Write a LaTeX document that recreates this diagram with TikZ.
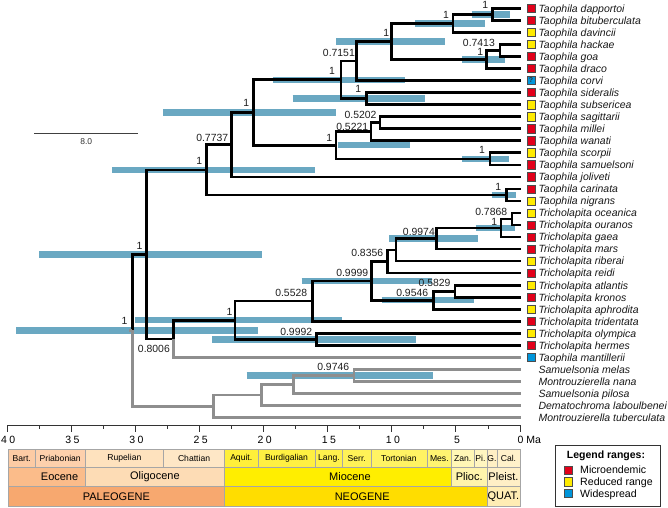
\documentclass[tikz,border=0pt]{standalone}
\usepackage{fontspec}
\setmainfont{Liberation Sans}
\newfontfamily\axisfont[LetterSpace=23]{Liberation Sans}
\usetikzlibrary{calc}
\definecolor{hpd}{HTML}{6AA8C2}
\definecolor{outgrp}{HTML}{8E8E8E}
\definecolor{rmic}{HTML}{E2001A}
\definecolor{rred}{HTML}{FFEB00}
\definecolor{rwid}{HTML}{0095DA}
% time scale colours
\definecolor{cbart}{HTML}{FCCBA4}
\definecolor{cpria}{HTML}{FDD0AC}
\definecolor{crup}{HTML}{FEE2BE}
\definecolor{cchat}{HTML}{FEE7C6}
\definecolor{caqu}{HTML}{FFEF3A}
\definecolor{cbur}{HTML}{FFF042}
\definecolor{clan}{HTML}{FFF14C}
\definecolor{cser}{HTML}{FFF257}
\definecolor{ctor}{HTML}{FFF363}
\definecolor{cmes}{HTML}{FFF470}
\definecolor{czan}{HTML}{FFF7B6}
\definecolor{cpia}{HTML}{FFF6C0}
\definecolor{cgel}{HTML}{FFEFC4}
\definecolor{ccal}{HTML}{FFF1CA}
\definecolor{ceoc}{HTML}{FBBC8A}
\definecolor{colig}{HTML}{FDDCB5}
\definecolor{cmio}{HTML}{FFEE00}
\definecolor{cplio}{HTML}{FFF4AC}
\definecolor{cpleist}{HTML}{FFEFC6}
\definecolor{cpal}{HTML}{F7A86F}
\definecolor{cneo}{HTML}{FFDD00}
\definecolor{cquat}{HTML}{FFEDB4}
\tikzset{
    tree/.style = {line width=2.6pt, line join=miter},
    outg/.style = {tree, draw=outgrp},
    hpdbar/.style = {draw=hpd, line width=6.4pt},
    post/.style = {font=\fontsize{10.4}{12}\selectfont, inner sep=0pt,
                   anchor=south east, text=black!88},
    tiplab/.style = {font=\fontsize{10.5}{12}\selectfont\itshape,
                     inner sep=0pt, anchor=base west, text=black!90},
    rangebox/.style = {draw=black!70, line width=0.5pt, minimum size=8.3pt,
                       inner sep=0pt},
    axisline/.style = {draw=black!80, line width=0.8pt},
    axlab/.style = {font=\axisfont\fontsize{10.5}{12}\selectfont,
                    inner sep=0pt, anchor=base},
    cell/.style = {draw=black!35, line width=0.6pt},
    stagelab/.style = {font=\fontsize{8.6}{10}\selectfont, inner sep=0pt},
    epochlab/.style = {font=\fontsize{11}{12}\selectfont, inner sep=0pt}
}

\begin{document}
\begin{tikzpicture}[x=1pt,y=-1pt]
    \fill[white] (0,0) rectangle (668,507);
    \useasboundingbox (0,0) rectangle (668,507);

    % tips
    \foreach \sp/\rng [count=\i from 0] in {Taophila dapportoi/rmic,
        Taophila bituberculata/rmic, Taophila davincii/rred,
        Taophila hackae/rred, Taophila goa/rmic, Taophila draco/rmic,
        Taophila corvi/rwid, Taophila sideralis/rmic,
        Taophila subsericea/rred, Taophila sagittarii/rred,
        Taophila millei/rmic, Taophila wanati/rmic, Taophila scorpii/rred,
        Taophila samuelsoni/rmic, Taophila joliveti/rmic,
        Taophila carinata/rmic, Taophila nigrans/rred,
        Tricholapita oceanica/rred, Tricholapita ouranos/rmic,
        Tricholapita gaea/rmic, Tricholapita mars/rmic,
        Tricholapita riberai/rred, Tricholapita reidi/rmic,
        Tricholapita atlantis/rred, Tricholapita kronos/rmic,
        Tricholapita aphrodita/rred, Tricholapita tridentata/rmic,
        Tricholapita olympica/rred, Tricholapita hermes/rmic,
        Taophila mantillerii/rwid}
        {\coordinate (t\i) at (520.5,{8.3+12.04*\i});
         \node[rangebox, fill=\rng] (sq\i) at (530.9,{8.3+12.04*\i}) {};
         \node[tiplab] (lab\i) at (538.3,{12.1+12.04*\i}) {\sp};}
    \foreach \sp [count=\i from 30] in {Samuelsonia melas,
        Montrouzierella nana, Samuelsonia pilosa,
        Dematochroma laboulbenei, Montrouzierella tuberculata}
        {\coordinate (t\i) at (520.5,{8.3+12.04*\i});
         \node[tiplab] (lab\i) at (538.3,{12.1+12.04*\i}) {\sp};}
    \node[font=\fontsize{7}{7}\selectfont\bfseries, inner sep=0pt,
          text=black!80] (qm) at (sq6) {?};

    % internal nodes
    \coordinate (A) at (492.7,14.32);
    \coordinate (B) at (453,23.35);
    \coordinate (C) at (500,50.44);
    \coordinate (D) at (486.7,59.47);
    \coordinate (E) at (391.7,41.41);
    \coordinate (F) at (356.7,60.98);
    \coordinate (G) at (366.7,98.6);
    \coordinate (H) at (341,79.79);
    \coordinate (I) at (380,122.68);
    \coordinate (J) at (371,131.71);
    \coordinate (K) at (490,158.8);
    \coordinate (L) at (336,145.26);
    \coordinate (M) at (253.3,112.53);
    \coordinate (N) at (231.7,144.7);
    \coordinate (P) at (506.7,194.92);
    \coordinate (O) at (206.7,169.81);
    \coordinate (GG) at (512,219);
    \coordinate (FF) at (501,228.03);
    \coordinate (EE) at (436.7,238.57);
    \coordinate (DD) at (396,249.86);
    \coordinate (BB) at (387.7,261.52);
    \coordinate (HH) at (455,291.24);
    \coordinate (CC) at (433.3,300.27);
    \coordinate (AA) at (371.7,280.9);
    \coordinate (Y) at (312.3,301.12);
    \coordinate (Z) at (316.7,339.4);
    \coordinate (S) at (235,320.26);
    \coordinate (R) at (173.3,338.86);
    \coordinate (Q) at (146.7,254.34);
    \coordinate (X) at (354,375.52);
    \coordinate (W) at (293.3,384.55);
    \coordinate (V) at (261.7,395.09);
    \coordinate (U) at (213.3,406.37);
    \coordinate (T) at (132.3,330.36);
    \coordinate (root) at (129,330.36);

    % 95% HPD bars
    \foreach \n/\a/\b in {A/471.7/510, B/415/485, D/462/505, E/336/445,
        H/272.7/405, G/292.7/425, M/163.3/336, L/338/410, K/462/509,
        O/112.3/315, P/491.7/516, FF/475.7/515, EE/389.3/478.3,
        AA/301.7/431.7, CC/381.7/474, S/135/342.3, Z/212.3/415.7,
        Q/39/261.7, T/16/257.7, X/246.7/432.7}
        {\draw[hpdbar] (\a,0 |- \n) -- (\b,0 |- \n);}

    % tree
    \foreach \a/\n/\b in {t0/A/t1, A/B/t2, t3/C/t4, C/D/t5, B/E/D, E/F/t6,
        t7/G/t8, F/H/G, t9/I/t10, I/J/t11, t12/K/t13, J/L/K, H/M/L,
        M/N/t14, t15/P/t16, N/O/P, t17/GG/t18, GG/FF/t19, FF/EE/t20,
        EE/DD/t21, DD/BB/t22, t23/HH/t24, HH/CC/t25, BB/AA/CC, AA/Y/t26,
        t27/Z/t28, Y/S/Z, O/Q/R}
        {\draw[tree] (\a) -| (\n) |- (\b);}
    \draw[tree] (S) -| (R);
    \draw[outg] (R) |- (t29);
    \draw[tree] (Q) -| (T);
    \draw[outg] (T) |- (U);
    \draw[outg] (T) -- (root);
    \foreach \a/\n/\b in {t30/X/t31, X/W/t32, W/V/t33, V/U/t34}
        {\draw[outg] (\a) -| (\n) |- (\b);}

    % posterior probabilities
    \foreach \n/\v/\dx/\dy in {A/1/-4.4/-5.6, B/1/-4/-5, C/0.7413/-5/-4,
        D/1/-3.4/-4.1, E/1/-2.4/-4.7, F/0.7151/-1.7/-4.6, G/1/-5.4/-5.6,
        H/1/-6/-5.4, I/0.5202/-3.3/-4, J/0.5221/-2.7/-1.3, K/1/-5/-5.1,
        L/1/-3.7/-3.9, M/1/-4/-6.1, N/0.7737/-3.4/-2.7, O/1/-4.4/-5.1,
        P/1/-5.4/-4.5, Q/1/-4.1/-4.9, T/1/-4.7/-6, S/1/-2.4/-4.9,
        Y/0.5528/-5/-4.1, Z/0.9992/-4.4/-4, AA/0.9999/-3.4/-4.5,
        BB/0.8356/-4.4/-4.8, EE/0.9974/-1.7/-3.2, FF/1/-3.7/-2.4,
        GG/0.7868/-4.7/-3.6, HH/0.5829/-4.3/-4.2, CC/0.9546/-5/-3.3,
        X/0.9746/-4.7/-4.5}
        {\node[post] (pp\n) at ([shift={(\dx,\dy)}]\n) {\v};}
    \node[post, anchor=north east] (ppR) at ([shift={(-3.3,5.8)}]R) {0.8006};

    % scale bar
    \coordinate (sb1) at (34.3,133.3);
    \coordinate (sb2) at (138.3,133.3);
    \draw[black!75, line width=0.8pt] (sb1) -- (sb2);
    \node[font=\fontsize{8.5}{10}\selectfont, inner sep=0pt, anchor=base,
          text=black!80] (sblab) at (86.3,144.3) {8.0};

    % time axis
    \draw[axisline] (7,425.7) -- (520.5,425.7);
    \foreach \m in {0,5,...,40}
        {\draw[axisline] ({520-12.825*\m},425.7) -- ++(0,6);}
    \foreach \m in {2.5,7.5,...,37.5}
        {\draw[axisline] ({520-12.825*\m},425.7) -- ++(0,3);}
    \foreach \m in {40,35,...,5}
        {\node[axlab] at ({521.2-12.825*\m},443.5) {\m};}
    \node[font=\fontsize{10.5}{12}\selectfont, inner sep=0pt,
          anchor=base west] (ma) at (517.3,443.5) {0 Ma};

    % geological time scale
    \foreach \a/\b/\lab/\col in {39.9/37.8/Bart./cbart,
        37.8/33.9/Priabonian/cpria, 33.9/27.8/Rupelian/crup,
        27.8/23.03/Chattian/cchat, 23.03/20.44/Aquit./caqu,
        20.44/15.97/Burdigalian/cbur, 15.97/13.82/Lang./clan,
        13.82/11.63/Serr./cser, 11.63/7.25/Tortonian/ctor,
        7.25/5.33/Mes./cmes, 5.33/3.6/Zan./czan, 3.6/2.58/Pi./cpia,
        2.58/1.8/G./cgel, 1.8/0/Cal./ccal}
        {\draw[cell, fill=\col] ({520-12.825*\a},449)
            rectangle ({520-12.825*\b},467.3);
         \node[stagelab] at ({520-12.825*(\a+\b)/2},458.2) {\lab};}
    \foreach \a/\b/\c/\lab/\col in {39.9/33.9/35.9/Eocene/ceoc,
        33.9/23.03/28.47/Oligocene/colig, 23.03/5.33/13.26/Miocene/cmio,
        5.33/2.58/3.96/Plioc./cplio, 2.58/0/1.29/Pleist./cpleist}
        {\draw[cell, fill=\col] ({520-12.825*\a},467.3)
            rectangle ({520-12.825*\b},486.7);
         \node[epochlab] at ({520-12.825*\c},477) {\lab};}
    \foreach \a/\b/\c/\lab/\col in {39.9/23.03/31.47/PALEOGENE/cpal,
        23.03/2.58/12.3/NEOGENE/cneo, 2.58/0/1.29/QUAT./cquat}
        {\draw[cell, fill=\col] ({520-12.825*\a},486.7)
            rectangle ({520-12.825*\b},506);
         \node[epochlab] at ({520-12.825*\c},496.4) {\lab};}

    % legend
    \draw[black!80, line width=0.8pt, fill=white] (555,445) rectangle (660,506);
    \node[font=\fontsize{10.5}{12}\selectfont\bfseries, inner sep=0pt,
          anchor=base west] (legtitle) at (566.7,458.8) {Legend ranges:};
    \foreach \col/\lab [count=\k] in {rmic/Microendemic,
        rred/Reduced range, rwid/Widespread}
        {\node[rangebox, fill=\col] (lg\k) at (568.5,{458.33+11.67*\k}) {};
         \node[font=\fontsize{10.6}{12}\selectfont, inner sep=0pt,
               anchor=base west] (lgt\k) at (580,{462.1+11.67*\k}) {\lab};}
\end{tikzpicture}
\end{document}
